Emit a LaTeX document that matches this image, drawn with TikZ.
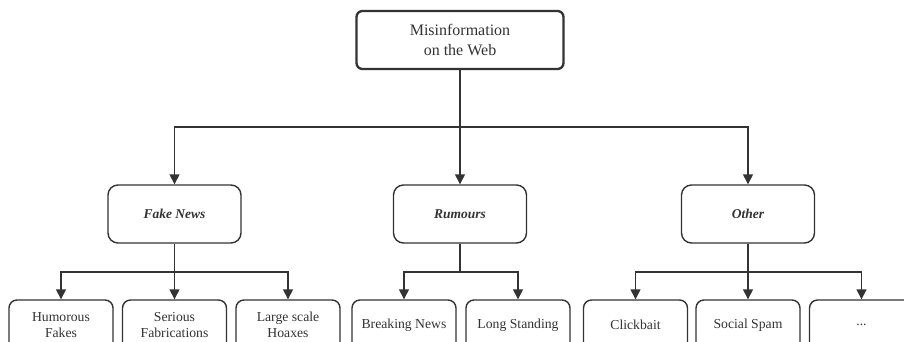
\documentclass[tikz,border=0pt]{standalone}
\usepackage{fontspec}
\setmainfont{Liberation Serif}
\usetikzlibrary{arrows.meta}
\definecolor{ink}{HTML}{333333}
\tikzset{
  box/.style={draw=ink, text=ink, align=center, line width=1.4pt,
    font=\fontsize{13.7pt}{16.5pt}\selectfont},
  rootbox/.style={box, rounded corners=6pt, line width=2.3pt,
    minimum width=207pt, minimum height=58pt,
    font=\fontsize{16pt}{20pt}\selectfont},
  midbox/.style={box, rounded corners=10pt, minimum width=133pt,
    minimum height=58pt, font=\fontsize{13.5pt}{16.5pt}\selectfont\bfseries\itshape},
  leafbox/.style={box, rounded corners=8pt, minimum width=104pt,
    minimum height=50pt},
  link/.style={draw=ink, line width=1.4pt},
  arrowlink/.style={link, -{Triangle[length=10pt,width=10pt]}}
}
\begin{document}
\begin{tikzpicture}[x=1pt,y=1pt]
\useasboundingbox (0,0) rectangle (904,-341);
\clip (0,0) rectangle (904,-341);
\fill[white] (0,0) rectangle (904,-341);

% root
\node[rootbox] (root) at (460,-40) {Misinformation\\on the Web};

% categories
\node[midbox] (fake) at (174.5,-214) {Fake News};
\node[midbox] (rum) at (460,-214) {Rumours};
\node[midbox] (oth) at (748,-214) {Other};

% leaves
\node[leafbox] (hum) at (61,-325) {Humorous\\Fakes};
\node[leafbox] (ser) at (174.5,-325) {Serious\\Fabrications};
\node[leafbox] (lar) at (288,-325) {Large scale\\Hoaxes};
\node[leafbox] (brk) at (404,-325) {Breaking News};
\node[leafbox] (lng) at (518,-325) {Long Standing};
\node[leafbox] (clk) at (635.5,-325) {Clickbait};
\node[leafbox] (spm) at (748,-325) {Social Spam};
\node[leafbox] (etc) at (861.5,-325) {...};

% junctions
\coordinate (j0) at (460,-127);
\coordinate (j1) at (174.5,-272);
\coordinate (j2) at (460,-272);
\coordinate (j3) at (748,-272);

% root to categories
\draw[link] (root.south) -- (j0);
\draw[arrowlink] (j0) -| (fake.north);
\draw[arrowlink] (j0) -- (rum.north);
\draw[arrowlink] (j0) -| (oth.north);

% fake news branch
\draw[link] (fake.south) -- (j1);
\draw[arrowlink] (j1) -| (hum.north);
\draw[arrowlink] (j1) -- (ser.north);
\draw[arrowlink] (j1) -| (lar.north);

% rumours branch
\draw[link] (rum.south) -- (j2);
\draw[arrowlink] (j2) -| (brk.north);
\draw[arrowlink] (j2) -| (lng.north);

% other branch
\draw[link] (oth.south) -- (j3);
\draw[arrowlink] (j3) -| (clk.north);
\draw[arrowlink] (j3) -- (spm.north);
\draw[arrowlink] (j3) -| (etc.north);
\end{tikzpicture}
\end{document}
